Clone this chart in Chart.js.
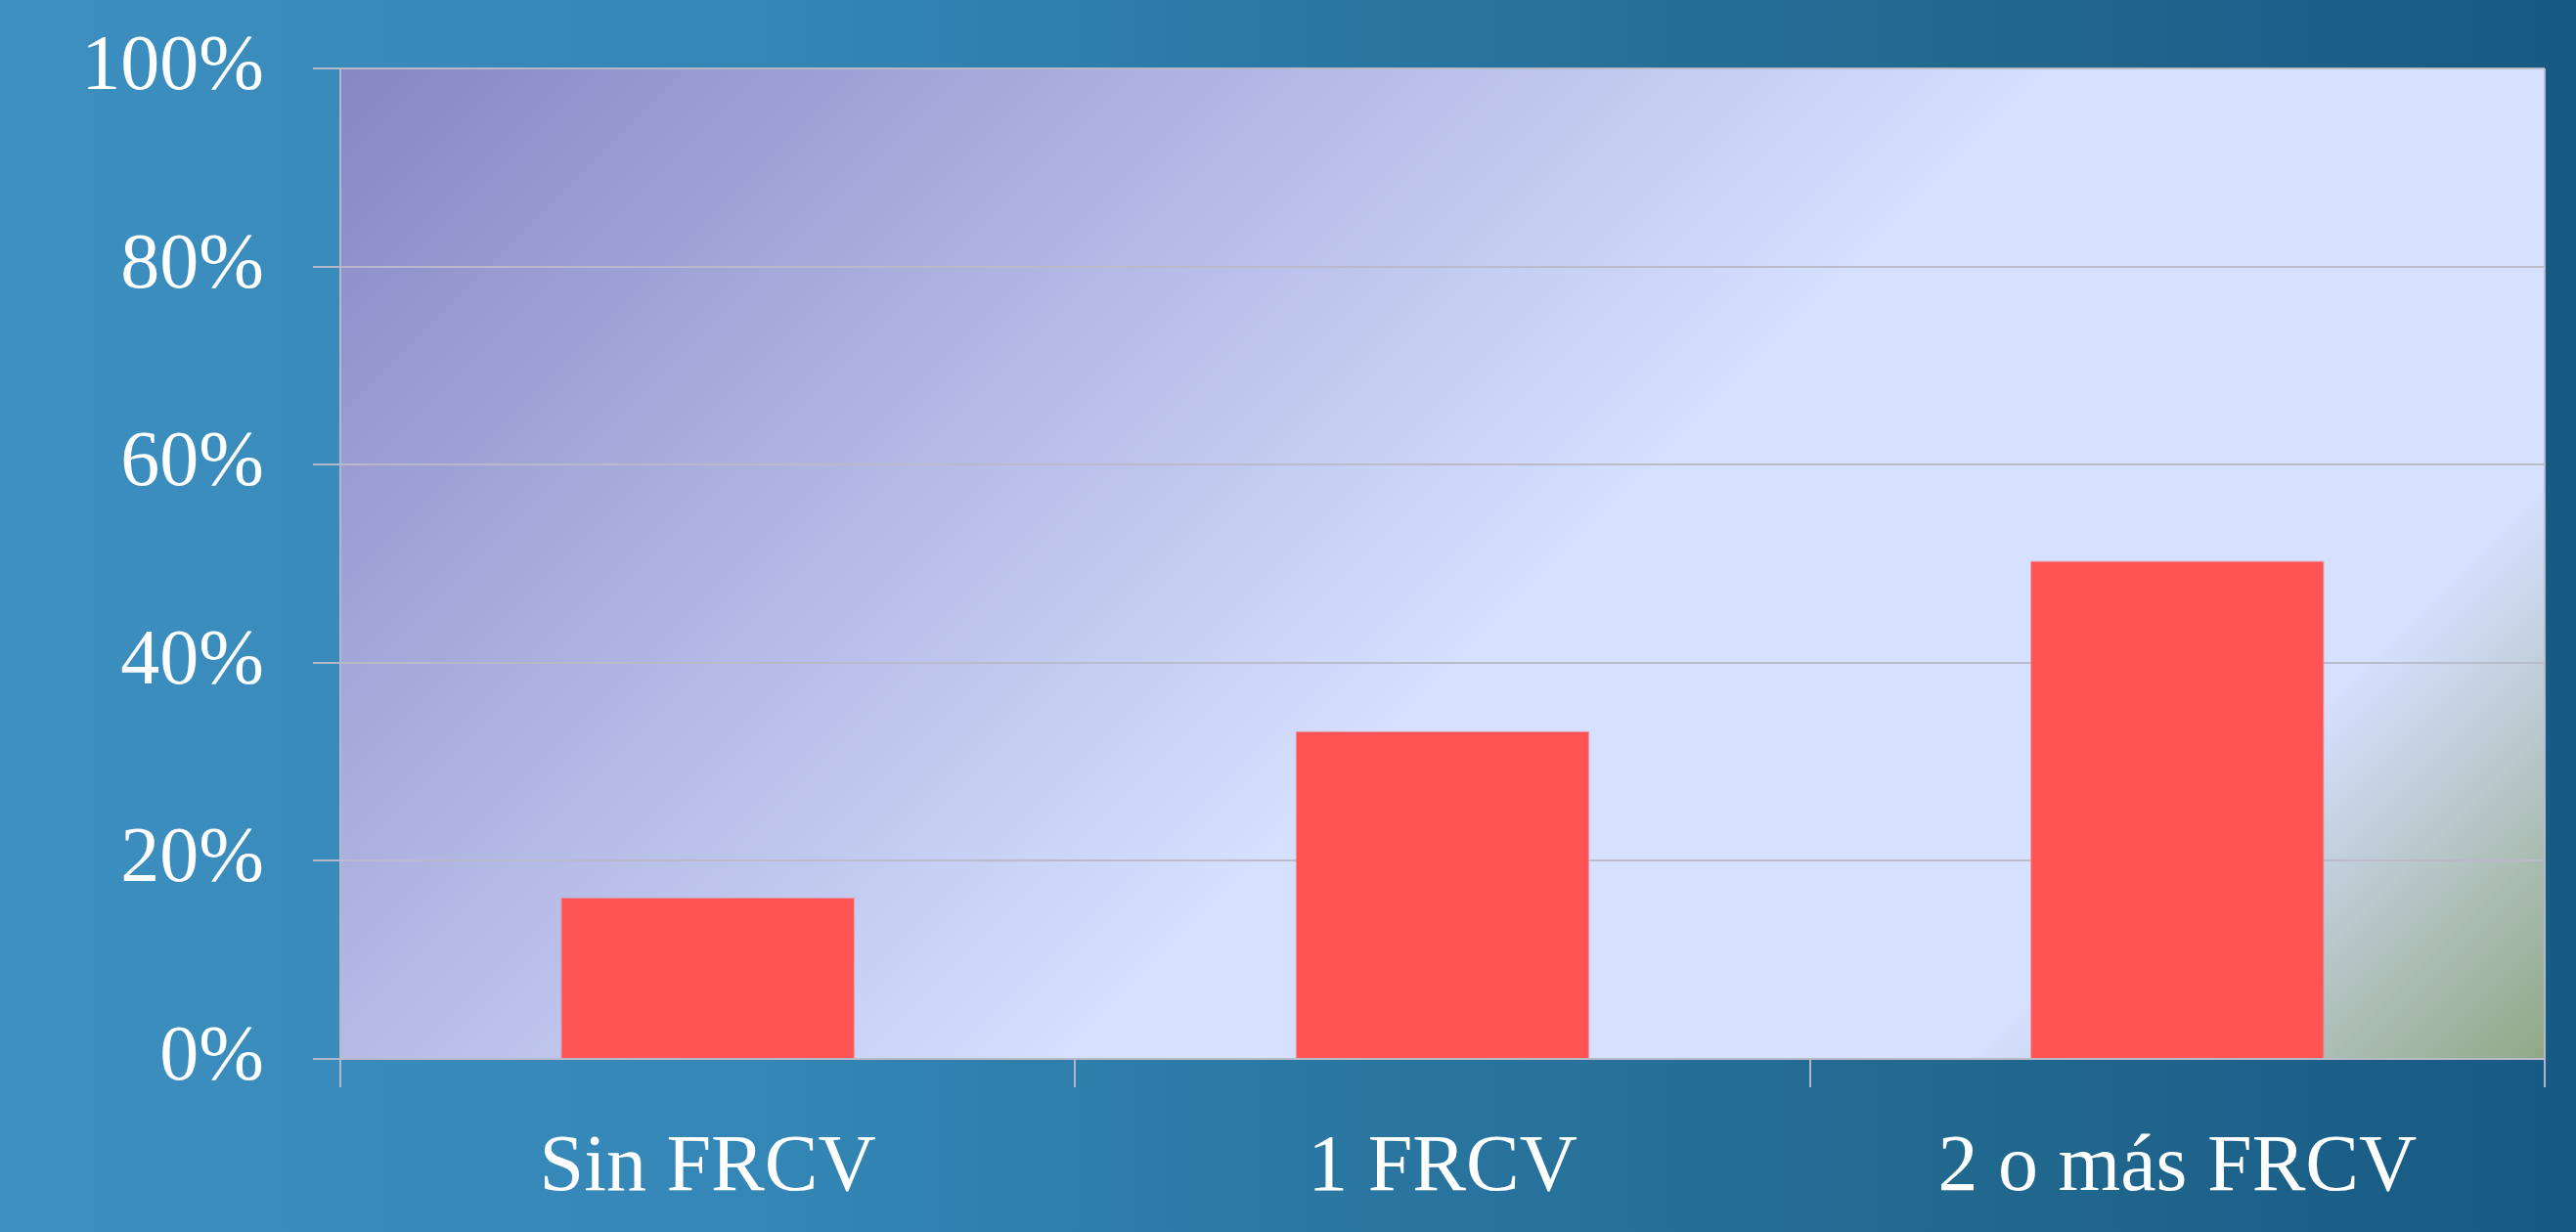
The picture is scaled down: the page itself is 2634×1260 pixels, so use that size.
<!DOCTYPE html>
<html>
<head>
<meta charset="utf-8">
<script src="https://cdn.jsdelivr.net/npm/chart.js@4.4.1/dist/chart.umd.min.js"></script>
<style>
  html, body {
    margin: 0;
    padding: 0;
    width: 2634px;
    height: 1260px;
    overflow: hidden;
    background: linear-gradient(to right, #3d8fbf 0%, #3386b5 30%, #2b78a4 50%, #22698f 75%, #175a84 100%);
  }
  #chart { display: block; }
</style>
</head>
<body>
<canvas id="chart" width="2634" height="1260"></canvas>
<script>
const categories = ["Sin FRCV", "1 FRCV", "2 o más FRCV"];
const values = [16.3, 33.1, 50.3];
const yTicks = [0, 20, 40, 60, 80, 100];

const FONT = "'Liberation Serif', 'DejaVu Serif', serif";
const GRID = "rgba(185,185,200,0.95)";

// gradient fill behind the plot area plus the right-hand frame line
const plotBackground = {
  id: "plotBackground",
  beforeDraw(chart) {
    const { ctx, chartArea: a } = chart;
    const t = (a.width + a.height) / 2;
    const g = ctx.createLinearGradient(a.left, a.top, a.left + t, a.top + t);
    g.addColorStop(0, "#8787c4");
    g.addColorStop(0.54, "#d6e0ff");
    g.addColorStop(0.82, "#d6e0ff");
    g.addColorStop(1, "#91a886");
    ctx.save();
    ctx.fillStyle = g;
    ctx.fillRect(a.left, a.top, a.width, a.height);
    ctx.restore();
  },
  afterDraw(chart) {
    const { ctx, chartArea: a } = chart;
    ctx.save();
    ctx.strokeStyle = GRID;
    ctx.lineWidth = 2;
    ctx.beginPath();
    ctx.moveTo(a.right, a.top);
    ctx.lineTo(a.right, a.bottom);
    ctx.stroke();
    ctx.restore();
  }
};

new Chart(document.getElementById("chart"), {
  type: "bar",
  data: {
    labels: categories,
    datasets: [{
      data: values,
      backgroundColor: "#ff5454",
      borderColor: "rgba(240,130,150,0.8)",
      borderWidth: 1,
      categoryPercentage: 1,
      barPercentage: 0.4
    }]
  },
  options: {
    responsive: false,
    animation: false,
    devicePixelRatio: 1,
    layout: { padding: { left: 0, right: 32, top: 70, bottom: 0 } },
    plugins: {
      legend: { display: false },
      tooltip: { enabled: false }
    },
    scales: {
      x: {
        afterFit(scale) {
          scale.height = 177;
          scale.paddingLeft = 0;
          scale.paddingRight = 0;
        },
        grid: {
          offset: true,
          drawOnChartArea: false,
          drawTicks: true,
          tickLength: 29,
          color: GRID,
          lineWidth: 2
        },
        border: { color: GRID, width: 2 },
        ticks: {
          color: "#ffffff",
          padding: 34,
          maxRotation: 0,
          font: { family: FONT, size: 82 }
        }
      },
      y: {
        min: 0,
        max: 100,
        afterFit(scale) {
          scale.width = 348;
          scale.paddingTop = 0;
          scale.paddingBottom = 0;
        },
        afterBuildTicks(scale) {
          scale.ticks = yTicks.map(v => ({ value: v }));
        },
        grid: {
          color: GRID,
          lineWidth: 2,
          drawTicks: true,
          tickLength: 28
        },
        border: { color: GRID, width: 2 },
        ticks: {
          color: "#ffffff",
          padding: 50,
          font: { family: FONT, size: 80 },
          callback: v => v + "%"
        }
      }
    }
  },
  plugins: [plotBackground]
});
</script>
</body>
</html>
